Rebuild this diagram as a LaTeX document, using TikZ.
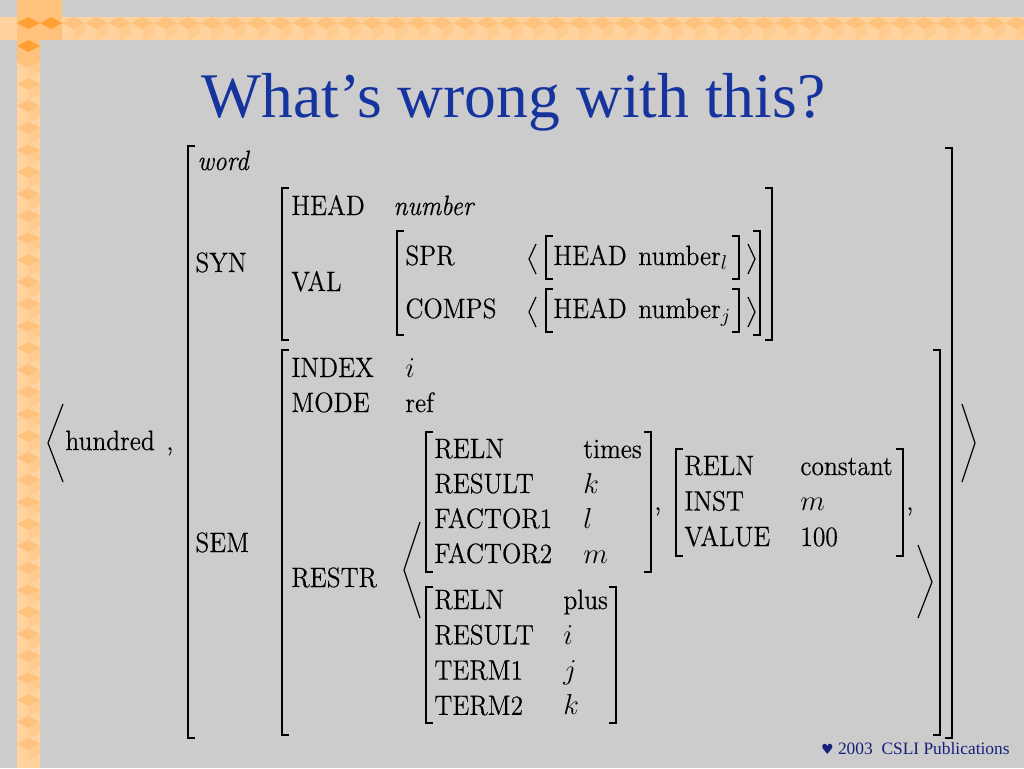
\documentclass[tikz,border=0pt]{standalone}
\usepackage{amsmath}
\usepackage{amssymb}
\usepackage{fontspec}
\setmainfont[FakeStretch=0.91, FakeBold=0.3]{Latin Modern Roman}
\newfontfamily\titlefont{Liberation Serif}
\newfontfamily\heartfont{DejaVu Sans}
\usepackage{tikz}
\usepackage{xcolor}
\definecolor{slidegray}{RGB}{204,204,204}
\definecolor{titleblue}{RGB}{22,52,158}
\definecolor{footblue}{RGB}{22,32,122}
\definecolor{orlight}{RGB}{255,210,158}
\definecolor{ormid}{RGB}{255,194,125}
\definecolor{ordark}{RGB}{255,160,52}
\newcommand{\avmlb}[3]{\draw[brk] (#1+7,#2) -- (#1,#2) -- (#1,#3) -- (#1+7,#3);}
\newcommand{\avmrb}[3]{\draw[brk] (#1-7,#2) -- (#1,#2) -- (#1,#3) -- (#1-7,#3);}
\tikzset{
  feat/.style={anchor=base west, inner sep=0pt, font=\fontsize{14}{16}\selectfont},
  brk/.style={line width=1pt},
  ang/.style={line width=0.6pt}
}

\begin{document}
\begin{tikzpicture}[x=0.5pt,y=-0.5pt]
    \useasboundingbox (0,0) rectangle (1024,768);
    \fill[slidegray] (0,0) rectangle (1024,768);

    \fill[orlight] (17,0) rectangle (40,768);
    \foreach \y in {62,84,...,750} {
        \fill[ormid] (17,\y) -- (28.5,\y-6) -- (40,\y) -- (28.5,\y+6) -- cycle;
        \fill[ormid!45!orlight] (28.5,\y+6) -- (40,\y) -- (40,\y+10) -- (28.5,\y+16) -- cycle;
    }
    \fill[orlight] (0,17) rectangle (1024,40);
    \foreach \x in {62,85,...,1010} {
        \fill[ormid] (\x,23) -- (\x+11.5,17) -- (\x+23,23) -- (\x+11.5,29) -- cycle;
        \fill[ormid!45!orlight] (\x+11.5,29) -- (\x+23,23) -- (\x+23,34) -- (\x+11.5,40) -- cycle;
    }
    \fill[ormid] (17,0) rectangle (62,40);
    \fill[ormid] (17,40) rectangle (40,62);
    \fill[ordark] (17,23) -- (28.5,17) -- (40,23) -- (28.5,29) -- cycle;
    \fill[ordark] (40,23) -- (51,17) -- (62,23) -- (51,29) -- cycle;
    \fill[ordark] (17,46) -- (28.5,40) -- (40,46) -- (28.5,52) -- cycle;

    \node[anchor=base, inner sep=0pt, text=titleblue, font=\titlefont\fontsize{31.8}{36}\selectfont] (title) at (513.5,117) {What’s wrong with this?};

    \draw[ang] (63,404) -- (48,443) -- (63,482);
    \draw[ang] (962,404) -- (975,443) -- (962,482);
    \node[feat] (hundred) at (65,450) {hundred};
    \node[feat] (comma0) at (166,450) {,};

    \avmlb{188}{146}{738}
    \avmrb{952}{148}{738}
    \node[feat] (word) at (197,170) {\textit{word}};
    \node[feat] (syn) at (195,272) {SYN};
    \node[feat] (sem) at (195,552) {SEM};

    \avmlb{282}{188}{340}
    \avmrb{772}{188}{340}
    \node[feat] (head) at (291,215) {HEAD};
    \node[feat] (headv) at (393,215) {\textit{number}};
    \node[feat] (val) at (291,291) {VAL};

    \avmlb{397}{231}{335}
    \avmrb{760}{231}{335}
    \node[feat] (spr) at (405,265) {SPR};
    \draw[ang] (536,244) -- (529,259) -- (536,274);
    \avmlb{546}{236}{279}
    \node[feat] (sprh) at (553,265) {HEAD};
    \node[feat] (sprv) at (638,265) {number$_l$};
    \avmrb{739}{236}{279}
    \draw[ang] (748,244) -- (755,259) -- (748,274);
    \node[feat] (comps) at (405,318) {COMPS};
    \draw[ang] (536,297) -- (529,312) -- (536,327);
    \avmlb{546}{289}{332}
    \node[feat] (compsh) at (553,318) {HEAD};
    \node[feat] (compsv) at (638,318) {number$_j$};
    \avmrb{739}{289}{332}
    \draw[ang] (748,297) -- (755,312) -- (748,327);

    \avmlb{282}{350}{735}
    \avmrb{940}{350}{735}
    \node[feat] (index) at (291,377) {INDEX};
    \node[feat] (indexv) at (405,377) {$i$};
    \node[feat] (mode) at (291,412) {MODE};
    \node[feat] (modev) at (405,412) {ref};
    \node[feat] (restr) at (291,587) {RESTR};

    \draw[ang] (420,522) -- (404,570) -- (420,618);
    \draw[ang] (918,545) -- (932,582) -- (918,618);

    \avmlb{426}{432}{572}
    \avmrb{651}{432}{572}
    \foreach \lab/\v [count=\n] in {RELN/times, RESULT/$k$, FACTOR1/$l$, FACTOR2/$m$} {
        \node[feat] (times\n) at (434,{458+35*(\n-1)}) {\lab};
        \node[feat] (timesv\n) at (583,{458+35*(\n-1)}) {\v};
    }
    \node[feat] (comma1) at (654,510) {,};

    \avmlb{676}{449}{556}
    \avmrb{903}{449}{556}
    \foreach \lab/\v [count=\n] in {RELN/constant, INST/$m$, VALUE/100} {
        \node[feat] (const\n) at (684,{475+35.5*(\n-1)}) {\lab};
        \node[feat] (constv\n) at (800,{475+35.5*(\n-1)}) {\v};
    }
    \node[feat] (comma2) at (906,510) {,};

    \avmlb{426}{587}{723}
    \avmrb{616}{587}{723}
    \foreach \lab/\v [count=\n] in {RELN/plus, RESULT/$i$, TERM1/$j$, TERM2/$k$} {
        \node[feat] (plus\n) at (434,{609+35.3*(\n-1)}) {\lab};
        \node[feat] (plusv\n) at (563,{609+35.3*(\n-1)}) {\v};
    }

    \node[anchor=base east, inner sep=0pt, text=footblue, font=\titlefont\fontsize{8.7}{10}\selectfont] (credit) at (1010,754) {{\heartfont\fontsize{7}{8}\selectfont ♥} 2003\ \ CSLI Publications};

\end{tikzpicture}
\end{document}
